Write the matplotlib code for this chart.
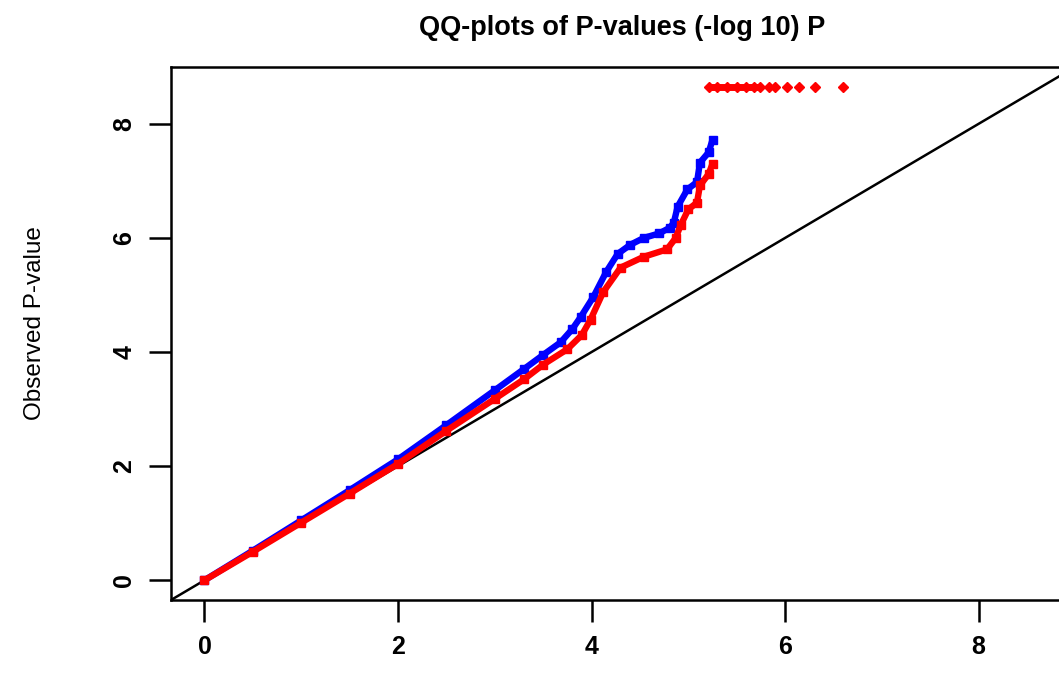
import numpy as np
import matplotlib
matplotlib.use("Agg")
import matplotlib.pyplot as plt

plt.rcParams['font.family'] = ['Liberation Sans', 'DejaVu Sans']

blue_x = [0, 0.5, 1.0, 1.5, 2.0, 2.5, 3.0, 3.3, 3.5, 3.68, 3.8, 3.89, 4.02,
          4.15, 4.27, 4.4, 4.54, 4.7, 4.81, 4.85, 4.89, 4.99, 5.09, 5.12,
          5.21, 5.25]
blue_y = [0, 0.52, 1.05, 1.58, 2.12, 2.72, 3.33, 3.7, 3.95, 4.17, 4.4, 4.62,
          4.97, 5.4, 5.72, 5.88, 6.0, 6.08, 6.18, 6.27, 6.55, 6.85, 6.98,
          7.32, 7.5, 7.72]

red_x = [0, 0.5, 1.0, 1.5, 2.0, 2.5, 3.0, 3.3, 3.5, 3.75, 3.9, 3.99, 4.12,
         4.3, 4.54, 4.78, 4.87, 4.92, 5.0, 5.09, 5.12, 5.21, 5.25]
red_y = [0, 0.5, 1.01, 1.52, 2.04, 2.62, 3.18, 3.52, 3.78, 4.05, 4.3, 4.57,
         5.05, 5.48, 5.67, 5.8, 6.0, 6.22, 6.5, 6.62, 6.92, 7.12, 7.3]

# puntos truncados arriba
red_cap_x = [5.21, 5.3, 5.4, 5.5, 5.6, 5.68, 5.74, 5.83, 5.9, 6.02, 6.14,
             6.31, 6.6]
red_cap_y = 8.65

ticks = [0, 2, 4, 6, 8]
lim = (-0.346, 8.996)

fig = plt.figure(figsize=(10.59, 6.82), dpi=100)
ax = fig.add_axes([171/1059, 82/682, 904/1059, 533/682])

ax.plot(lim, lim, color='black', lw=1.8, zorder=1)
ax.plot(blue_x, blue_y, color='#0000ff', lw=4.6, marker='s', ms=5.5,
        solid_capstyle='round', solid_joinstyle='round', zorder=2)
ax.plot(red_x, red_y, color='#ff0000', lw=4.6, marker='s', ms=5.5,
        solid_capstyle='round', solid_joinstyle='round', zorder=3)
ax.plot(red_cap_x[:7], [red_cap_y]*7, color='#ff0000', lw=5,
        solid_capstyle='round', zorder=3)
ax.plot(red_cap_x, [red_cap_y]*len(red_cap_x), 'D', color='#ff0000',
        ms=5.5, zorder=3)

ax.set_xlim(lim)
ax.set_ylim(lim)
ax.set_xticks(ticks)
ax.set_yticks(ticks)
ax.tick_params(direction='out', length=16, width=1.8, labelsize=18, pad=9)
for lab in ax.get_xticklabels() + ax.get_yticklabels():
    lab.set_fontweight('bold')
for lab in ax.get_yticklabels():
    lab.set_rotation(90)
    lab.set_va('center')
for s in ax.spines.values():
    s.set_linewidth(1.8)

fig.text(622/1059, 1 - 28/682, 'QQ-plots of P-values (-log 10) P',
         ha='center', va='center', fontsize=19.5, fontweight='bold')
fig.text(35/1059, 1 - 323/682, 'Observed P-value', rotation=90,
         ha='center', va='center', fontsize=17.5)

fig.savefig('out.png', dpi=100)
